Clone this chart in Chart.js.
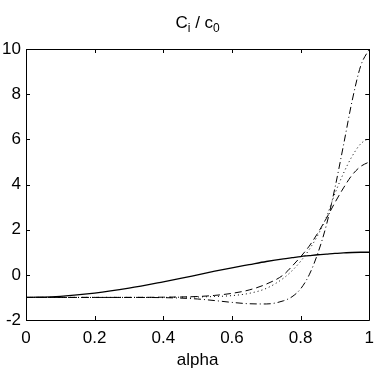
<!DOCTYPE html>
<html lang="en">
<head>
    <meta charset="UTF-8">
    <title>Ci / c0</title>
    <script src="https://cdn.jsdelivr.net/npm/chart.js"></script>
    <style>
        body {
            margin: 0;
            background-color: #ffffff;
        }
        #chartContainer {
            width: 382px;
            height: 373px;
        }
    </style>
</head>
<body>
    <div id="chartContainer">
        <canvas id="ratioChart"></canvas>
    </div>

    <script>
        // values
        const alpha = [0, 0.1, 0.2, 0.3, 0.4, 0.45, 0.5, 0.55, 0.6, 0.65, 0.7, 0.75, 0.775, 0.8, 0.825, 0.85, 0.875, 0.9, 0.925, 0.95, 0.975, 1];
        const solidValues   = [-1, -0.95, -0.81, -0.59, -0.31, -0.16, 0, 0.16, 0.31, 0.45, 0.59, 0.71, 0.76, 0.81, 0.85, 0.89, 0.92, 0.95, 0.97, 0.99, 1.0, 1.0];
        const dashedValues  = [-1, -1, -1, -1, -0.99, -0.98, -0.96, -0.91, -0.82, -0.67, -0.41, 0.0, 0.38, 0.8, 1.27, 1.85, 2.5, 3.2, 3.85, 4.42, 4.8, 5.0];
        const dottedValues  = [-1, -1, -1, -1, -1, -0.99, -0.98, -0.96, -0.92, -0.82, -0.6, -0.15, 0.18, 0.6, 1.12, 1.75, 2.55, 3.6, 4.5, 5.25, 5.8, 6.05];
        const dashDotValues = [-1, -1, -1, -1, -1.01, -1.03, -1.07, -1.14, -1.22, -1.28, -1.29, -1.15, -0.97, -0.62, 0.0, 0.95, 2.2, 3.85, 5.75, 7.7, 9.25, 10];
        const xTicks = [0, 0.2, 0.4, 0.6, 0.8, 1];
        const yTicks = [-2, 0, 2, 4, 6, 8, 10];

        const fontFamily = '"Liberation Sans", Arial, Helvetica, sans-serif';

        function series(values, dash, width) {
            return {
                data: alpha.map((a, i) => ({ x: a, y: values[i] })),
                borderColor: '#000000',
                borderWidth: width,
                borderDash: dash,
                pointRadius: 0,
                fill: false,
                cubicInterpolationMode: 'monotone'
            };
        }

        // MATLAB style box with inward ticks and the subscripted title
        const boxPlugin = {
            id: 'matlabBox',
            afterDraw(chart) {
                const ctx = chart.ctx;
                const area = chart.chartArea;
                const xs = chart.scales.x;
                const ys = chart.scales.y;
                const tick = 4;
                ctx.save();
                ctx.strokeStyle = '#000000';
                ctx.lineWidth = 1;
                ctx.beginPath();
                ctx.rect(Math.round(area.left) + 0.5, Math.round(area.top) + 0.5,
                    Math.round(area.right - area.left), Math.round(area.bottom - area.top));
                xTicks.forEach(v => {
                    const px = Math.round(xs.getPixelForValue(v)) + 0.5;
                    ctx.moveTo(px, area.bottom);
                    ctx.lineTo(px, area.bottom - tick);
                    ctx.moveTo(px, area.top);
                    ctx.lineTo(px, area.top + tick);
                });
                yTicks.forEach(v => {
                    const py = Math.round(ys.getPixelForValue(v)) + 0.5;
                    ctx.moveTo(area.left, py);
                    ctx.lineTo(area.left + tick, py);
                    ctx.moveTo(area.right, py);
                    ctx.lineTo(area.right - tick, py);
                });
                ctx.stroke();

                // title: C_i / c_0
                const parts = [
                    { t: 'C', size: 17, dy: 0 },
                    { t: 'i', size: 12, dy: 4 },
                    { t: ' / c', size: 17, dy: 0 },
                    { t: '0', size: 12, dy: 4 }
                ];
                let total = 0;
                parts.forEach(p => {
                    ctx.font = p.size + 'px ' + fontFamily;
                    p.w = ctx.measureText(p.t).width;
                    total += p.w;
                });
                let x = (area.left + area.right) / 2 - total / 2;
                const baseY = 28;
                ctx.fillStyle = '#000000';
                ctx.textBaseline = 'alphabetic';
                ctx.textAlign = 'left';
                parts.forEach(p => {
                    ctx.font = p.size + 'px ' + fontFamily;
                    ctx.fillText(p.t, x, baseY + p.dy);
                    x += p.w;
                });
                ctx.restore();
            }
        };

        const config = {
            type: 'line',
            data: {
                datasets: [
                    series(solidValues, [], 1.3),
                    series(dashedValues, [7, 4], 1),
                    series(dottedValues, [1, 3], 1),
                    series(dashDotValues, [7, 3, 1, 3], 1)
                ]
            },
            options: {
                responsive: true,
                maintainAspectRatio: false,
                animation: false,
                layout: { padding: { top: 49, right: 12, left: 0, bottom: 0 } },
                plugins: {
                    legend: { display: false },
                    tooltip: { enabled: false }
                },
                scales: {
                    x: {
                        type: 'linear',
                        min: 0,
                        max: 1,
                        afterFit: s => { s.height = 53; },
                        afterBuildTicks: s => { s.ticks = xTicks.map(v => ({ value: v })); },
                        grid: { display: false, drawTicks: false },
                        border: { display: false },
                        ticks: {
                            color: '#000000',
                            font: { family: fontFamily, size: 17 },
                            padding: 8,
                            maxRotation: 0,
                            callback: v => String(+v.toFixed(1))
                        },
                        title: {
                            display: true,
                            text: 'alpha',
                            color: '#000000',
                            font: { family: fontFamily, size: 17 },
                            padding: { top: 0, bottom: 2 }
                        }
                    },
                    y: {
                        min: -2,
                        max: 10,
                        afterFit: s => { s.width = 26; },
                        afterBuildTicks: s => { s.ticks = yTicks.map(v => ({ value: v })); },
                        grid: { display: false, drawTicks: false },
                        border: { display: false },
                        ticks: {
                            color: '#000000',
                            font: { family: fontFamily, size: 17 },
                            padding: 5
                        }
                    }
                }
            },
            plugins: [boxPlugin]
        };

        const ctx = document.getElementById('ratioChart').getContext('2d');
        const ratioChart = new Chart(ctx, config);
    </script>
</body>
</html>
